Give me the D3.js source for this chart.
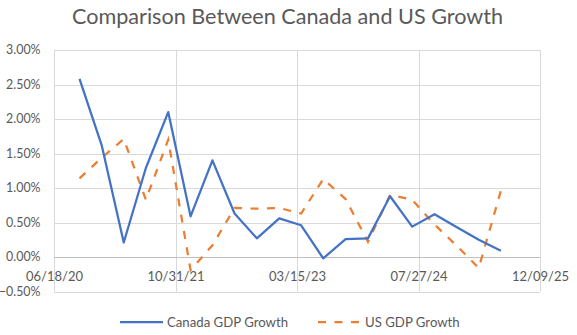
<!DOCTYPE html>
<html>
<head>
<meta charset="utf-8">
<script src="https://cdn.jsdelivr.net/npm/d3@7"></script>
<style>
  html, body { margin: 0; padding: 0; background: #fff; }
  svg text { font-family: "Lato", "Open Sans", sans-serif; }
</style>
</head>
<body>
<svg id="chart" width="577" height="335"></svg>
<script>
// ---- data ----
const titleText = "Comparison Between Canada and US Growth";
const quarterDates = ["2020-10-01","2021-01-01","2021-04-01","2021-07-01","2021-10-01",
  "2022-01-01","2022-04-01","2022-07-01","2022-10-01","2023-01-01",
  "2023-04-01","2023-07-01","2023-10-01","2024-01-01","2024-04-01",
  "2024-07-01","2024-10-01","2025-01-01","2025-04-01","2025-07-01"];
const canadaGrowth = [2.58,1.61,0.21,1.29,2.10,0.59,1.40,0.63,0.27,0.56,
  0.46,-0.02,0.26,0.27,0.88,0.44,0.62,0.43,0.25,0.09];
const usGrowth = [1.14,1.44,1.71,0.83,1.70,-0.19,0.17,0.71,0.70,0.71,
  0.63,1.13,0.84,0.22,0.90,0.83,0.47,0.16,-0.16,0.96];
const xTickDates = ["2020-06-18","2021-10-31","2023-03-15","2024-07-27","2025-12-09"];
const yTickValues = [-0.5,0,0.5,1,1.5,2,2.5,3];
const seriesNames = ["Canada GDP Growth","US GDP Growth"];

// ---- layout ----
const plot = {left: 54, right: 540, top: 50, bottom: 291.5};
const parse = d3.utcParse("%Y-%m-%d");
const xTicks = xTickDates.map(parse);
const x = d3.scaleUtc().domain([xTicks[0], xTicks[xTicks.length-1]]).range([plot.left, plot.right]);
const y = d3.scaleLinear().domain([-0.5, 3]).range([plot.bottom, plot.top]);

const svg = d3.select("#chart");
const grid = "#D9D9D9", textCol = "#595959";

// title
svg.append("text").attr("x", 287.5).attr("y", 23.5)
  .attr("text-anchor", "middle").attr("font-size", 21.6).attr("fill", textCol)
  .attr("font-weight", 400).text(titleText);

// horizontal gridlines
svg.append("g").selectAll("line").data(yTickValues).join("line")
  .attr("x1", plot.left).attr("x2", plot.right)
  .attr("y1", d => Math.round(y(d)) + 0.5).attr("y2", d => Math.round(y(d)) + 0.5)
  .attr("stroke", grid).attr("stroke-width", 1);

// vertical gridlines
svg.append("g").selectAll("line").data(xTicks).join("line")
  .attr("x1", d => Math.round(x(d)) + 0.5).attr("x2", d => Math.round(x(d)) + 0.5)
  .attr("y1", plot.top).attr("y2", plot.bottom)
  .attr("stroke", grid).attr("stroke-width", 1);

// zero axis line slightly darker
svg.append("line").attr("x1", plot.left).attr("x2", plot.right)
  .attr("y1", Math.round(y(0)) + 0.5).attr("y2", Math.round(y(0)) + 0.5)
  .attr("stroke", "#BFBFBF").attr("stroke-width", 1);

// y axis labels
const yAxis = d3.axisLeft(y).tickValues(yTickValues)
  .tickFormat(d => d3.format(".2f")(d) + "%").tickSize(0).tickPadding(13.5);
const gy = svg.append("g").attr("transform", `translate(${plot.left},0)`).call(yAxis);
gy.select(".domain").remove();
gy.selectAll("text").attr("font-size", 12.4).attr("fill", textCol)
  .attr("font-family", "Lato, 'Open Sans', sans-serif");

// x axis labels (positioned just below the zero line)
const xAxis = d3.axisBottom(x).tickValues(xTicks)
  .tickFormat(d3.utcFormat("%m/%d/%y")).tickSize(0).tickPadding(15);
const gx = svg.append("g").attr("transform", `translate(0,${y(0)})`).call(xAxis);
gx.select(".domain").remove();
gx.selectAll("text").attr("font-size", 13).attr("fill", textCol)
  .attr("font-family", "Lato, 'Open Sans', sans-serif");

// lines
const dates = quarterDates.map(parse);
const line = d3.line().x((d, i) => x(dates[i])).y(d => y(d));
svg.append("path").datum(usGrowth).attr("d", line)
  .attr("fill", "none").attr("stroke", "#ED7D31").attr("stroke-width", 2.25)
  .attr("stroke-dasharray", "8,8.5");
svg.append("path").datum(canadaGrowth).attr("d", line)
  .attr("fill", "none").attr("stroke", "#4472C4").attr("stroke-width", 2.25)
  .attr("stroke-linejoin", "round");

// legend
const legend = [
  {name: seriesNames[0], color: "#4472C4", dash: null, x: 120},
  {name: seriesNames[1], color: "#ED7D31", dash: "8,8.5", x: 318}
];
const lg = svg.append("g");
legend.forEach(l => {
  lg.append("line").attr("x1", l.x).attr("x2", l.x + 43).attr("y1", 322).attr("y2", 322)
    .attr("stroke", l.color).attr("stroke-width", 2.25).attr("stroke-dasharray", l.dash);
  lg.append("text").attr("x", l.x + 47).attr("y", 326.5).attr("font-size", 13.2)
    .attr("fill", textCol).text(l.name);
});
</script>
</body>
</html>
